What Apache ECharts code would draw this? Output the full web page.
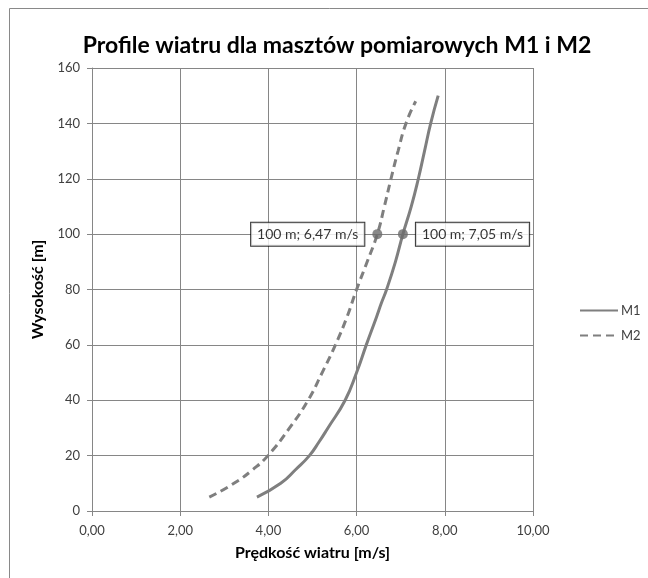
<!DOCTYPE html>
<html>
<head>
<meta charset="utf-8">
<script src="https://cdn.jsdelivr.net/npm/echarts@6/dist/echarts.min.js"></script>
<style>
  html, body { margin: 0; padding: 0; background: #fff; }
  #chart { width: 648px; height: 578px; }
</style>
</head>
<body>
<div id="chart"></div>
<script>
// heights [m] and wind speeds [m/s]
var heightsM1 = [5, 10, 15, 20, 25, 30, 40, 50, 60, 70, 75, 80, 90, 100, 110, 120, 130, 140, 150];
var speedsM1 = [3.74, 4.28, 4.62, 4.93, 5.15, 5.35, 5.74, 6.00, 6.22, 6.45, 6.56, 6.68, 6.88, 7.05, 7.24, 7.40, 7.54, 7.68, 7.85];
var heightsM2 = [5, 10, 15, 20, 30, 40, 50, 60, 70, 80, 90, 100, 110, 120, 130, 140, 148];
var speedsM2 = [2.66, 3.22, 3.65, 3.99, 4.48, 4.90, 5.22, 5.52, 5.78, 6.00, 6.24, 6.47, 6.63, 6.78, 6.94, 7.12, 7.34];
// marked points at 100 m
var markHeight = 100;
var markM1 = 7.05;
var markM2 = 6.47;

var fontName = 'Lato';
var gridColor = '#868686';

function pairs(xs, ys) {
    var out = [];
    for (var i = 0; i < xs.length; i++) {
        out.push([xs[i], ys[i]]);
    }
    return out;
}

function fmt(v) {
    return v.toFixed(2).replace('.', ',');
}

var labelBox = {
    show: true,
    color: '#000',
    fontFamily: fontName,
    fontSize: 14,
    backgroundColor: '#fff',
    borderColor: '#000',
    borderWidth: 1,
    padding: [5, 6, 4, 6],
    distance: 8,
    formatter: function (p) {
        return p.value[1] + ' m; ' + fmt(p.value[0]) + ' m/s';
    }
};

var chart = echarts.init(document.getElementById('chart'));
var option = {
    backgroundColor: '#fff',
    animation: false,
    title: {
        text: 'Profile wiatru dla masztów pomiarowych M1 i M2',
        left: 332,
        textAlign: 'center',
        top: 29,
        textStyle: { fontFamily: fontName, fontSize: 23, fontWeight: 'bold', color: '#000' }
    },
    graphic: [{
        type: 'rect',
        shape: { x: 9.5, y: 8.5, width: 800, height: 800 },
        style: { fill: 'none', stroke: '#898989', lineWidth: 1 },
        silent: true
    }],
    legend: {
        orient: 'vertical',
        left: 574,
        top: 299,
        itemWidth: 38,
        itemHeight: 12,
        itemGap: 12,
        data: ['M1', 'M2'],
        itemStyle: { opacity: 0 },
        textStyle: { fontFamily: fontName, fontSize: 13, color: '#404040', padding: [0, 0, 0, -2] }
    },
    grid: { left: 92, right: 115, top: 68, bottom: 67 },
    xAxis: {
        type: 'value',
        min: 0, max: 10, interval: 2,
        name: 'Prędkość wiatru [m/s]',
        nameLocation: 'middle',
        nameGap: 34,
        nameTextStyle: { fontFamily: fontName, fontSize: 16, fontWeight: 'bold', color: '#000' },
        axisLine: { show: true, lineStyle: { color: gridColor } },
        axisTick: { show: true, length: 5, lineStyle: { color: gridColor } },
        axisLabel: {
            fontFamily: fontName, fontSize: 13, color: '#404040', margin: 13,
            formatter: function (v) { return fmt(v); }
        },
        splitLine: { show: true, lineStyle: { color: gridColor, width: 1 } }
    },
    yAxis: {
        type: 'value',
        min: 0, max: 160, interval: 20,
        name: 'Wysokość [m]',
        nameLocation: 'middle',
        nameGap: 46,
        nameTextStyle: { fontFamily: fontName, fontSize: 16, fontWeight: 'bold', color: '#000' },
        axisLine: { show: true, lineStyle: { color: gridColor } },
        axisTick: { show: true, length: 5, lineStyle: { color: gridColor } },
        axisLabel: { fontFamily: fontName, fontSize: 13, color: '#404040', margin: 12 },
        splitLine: { show: true, lineStyle: { color: gridColor, width: 1 } }
    },
    series: [
        {
            name: 'M1',
            type: 'line',
            smooth: 0.5,
            showSymbol: false,
            symbol: 'none',
            symbolSize: 0,
            color: '#7f7f7f',
            lineStyle: { color: '#7f7f7f', width: 3 },
            data: pairs(speedsM1, heightsM1)
        },
        {
            name: 'M2',
            type: 'line',
            smooth: 0.5,
            showSymbol: false,
            symbol: 'none',
            symbolSize: 0,
            color: '#7f7f7f',
            lineStyle: { color: '#7f7f7f', width: 3, type: [8, 5] },
            data: pairs(speedsM2, heightsM2)
        },
        {
            name: 'marks',
            type: 'scatter',
            symbol: 'circle',
            symbolSize: 10,
            itemStyle: { color: '#6b6b6b' },
            z: 5,
            data: [
                { value: [markM1, markHeight], label: Object.assign({}, labelBox, { position: 'right' }) },
                { value: [markM2, markHeight], label: Object.assign({}, labelBox, { position: 'left' }) }
            ]
        }
    ]
};
chart.setOption(option);
</script>
</body>
</html>
